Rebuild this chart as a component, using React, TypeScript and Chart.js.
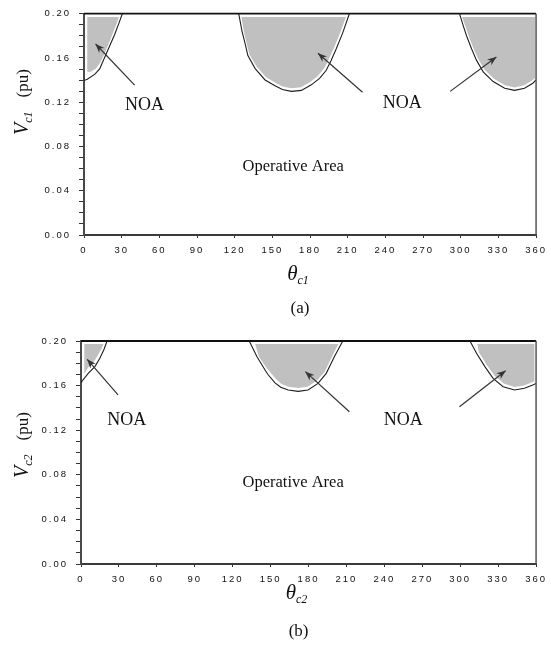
import React, { useEffect, useRef } from "react";
import { Chart, registerables } from "chart.js";

Chart.register(...registerables);

type Pt = [number, number];

// Axis ticks: firing angle θ (deg) and series voltage V (pu)
const thetaTickLabels = ["0", "30", "60", "90", "120", "150", "180", "210", "240", "270", "300", "330", "360"];
const vTickLabels = ["0.00", "0.04", "0.08", "0.12", "0.16", "0.20"];
const vMinorStep = 0.01;

// Panel (a): boundaries of the non-operative areas (θc1, Vc1)
const aLeftEdge: Pt[] = [[0, 0.1396], [2.6, 0.1407], [8.7, 0.1454], [12.6, 0.1504], [15.2, 0.1572], [20.5, 0.1711], [24.5, 0.1814], [27.9, 0.1917], [30.5, 0.2]];
const aMidEdge: Pt[] = [[123.2, 0.2], [125.8, 0.1843], [128.4, 0.1726], [130.5, 0.1622], [136.3, 0.1504], [144.2, 0.1401], [152.1, 0.1348], [158, 0.1315], [165.2, 0.1298], [173.1, 0.1307], [181.0, 0.1357], [187.6, 0.1416], [192.9, 0.1489], [196.8, 0.1578], [200.8, 0.1681], [206.1, 0.1829], [211.3, 0.2]];
const aRightEdge: Pt[] = [[299.0, 0.2], [302.1, 0.1888], [304.7, 0.1799], [308.7, 0.1681], [312.6, 0.1578], [317.9, 0.1475], [325.8, 0.1387], [335.0, 0.1327], [342.9, 0.1307], [350.8, 0.1327], [357.4, 0.1372], [360, 0.1401]];

// Panel (a): shaded interiors of the non-operative areas
const aLeftShade: Pt[] = [[2.6, 0.197], [2.6, 0.147], [5.5, 0.1475], [9.5, 0.1505], [13, 0.156], [16, 0.163], [19.5, 0.1725], [23, 0.1825], [26, 0.191], [27.8, 0.197]];
const aMidShade: Pt[] = [[125.3, 0.197], [127.3, 0.184], [129.6, 0.1726], [131.8, 0.163], [137.3, 0.1525], [144.8, 0.1428], [152.4, 0.1375], [158, 0.1343], [165.2, 0.1326], [172.8, 0.1335], [180.2, 0.1383], [186.4, 0.144], [191.4, 0.151], [195.2, 0.1595], [199.2, 0.1695], [204.4, 0.184], [208.6, 0.197]];
const aRightShade: Pt[] = [[301, 0.197], [303.7, 0.1888], [306.2, 0.18], [310.1, 0.1688], [313.9, 0.159], [318.9, 0.1495], [326.4, 0.1412], [335.2, 0.1353], [342.9, 0.1334], [350.5, 0.1353], [356.6, 0.1394], [359.3, 0.142], [359.3, 0.197]];

// Panel (a): annotations (tail, head) and label anchors in data units
const aArrows: [Pt, Pt][] = [[[40.3, 0.1354], [9.2, 0.1726]], [[221.8, 0.129], [186.3, 0.1643]], [[291.6, 0.1298], [328.4, 0.1608]]];
const aNoaLabels: Pt[] = [[48.2, 0.117], [253.4, 0.1195]];
const aOperativeLabel: Pt = [166.6, 0.062];

// Panel (b): boundaries of the non-operative areas (θc2, Vc2)
const bLeftEdge: Pt[] = [[0, 0.163], [0.5, 0.1635], [5.7, 0.171], [11.0, 0.177], [14.9, 0.1845], [18.0, 0.1919], [20.6, 0.2]];
const bMidEdge: Pt[] = [[133.1, 0.2], [139.1, 0.186], [145.6, 0.174], [148.2, 0.1695], [153.5, 0.1625], [158, 0.1585], [163.9, 0.156], [171.8, 0.1548], [179.6, 0.156], [187.5, 0.162], [194.0, 0.171], [200.5, 0.186], [207.1, 0.2]];
const bRightEdge: Pt[] = [[307.7, 0.2], [312.9, 0.189], [319.5, 0.177], [326.0, 0.1665], [333.9, 0.159], [343.0, 0.156], [350.8, 0.1576], [357.4, 0.1605], [360, 0.162]];

// Panel (b): shaded interiors
const bLeftShade: Pt[] = [[2.6, 0.1973], [2.6, 0.1705], [5.8, 0.1765], [10.2, 0.1815], [13.5, 0.1875], [16.4, 0.1935], [17.8, 0.1973]];
const bMidShade: Pt[] = [[137.8, 0.1973], [140.6, 0.186], [147, 0.1755], [154.6, 0.1655], [158.6, 0.1615], [164.2, 0.159], [171.8, 0.1578], [179.2, 0.159], [186.8, 0.1645], [192.8, 0.1725], [198.8, 0.1865], [203.6, 0.1973]];
const bRightShade: Pt[] = [[313.5, 0.1973], [314.8, 0.19], [320.8, 0.179], [327.0, 0.169], [334.4, 0.1618], [343.0, 0.1588], [350.5, 0.1602], [356.5, 0.1628], [358.7, 0.164], [358.7, 0.1973]];

// Panel (b): annotations
const bArrows: [Pt, Pt][] = [[[29.3, 0.1516], [4.9, 0.1836]], [[212.3, 0.1366], [177.5, 0.1725]], [[299.4, 0.1411], [335.9, 0.1734]]];
const bNoaLabels: Pt[] = [[36.1, 0.129], [254.9, 0.129]];
const bOperativeLabel: Pt = [167.8, 0.0726];

const SERIF = "'Liberation Serif', 'Times New Roman', serif";
const SANS = "'Liberation Sans', Arial, sans-serif";
const W = 551;

type Run = { text: string; font: string; dy?: number; gap?: number };

function runsWidth(ctx: CanvasRenderingContext2D, runs: Run[]) {
  let w = 0;
  for (const r of runs) {
    ctx.font = r.font;
    w += ctx.measureText(r.text).width + (r.gap || 0);
  }
  return w;
}

function drawRuns(ctx: CanvasRenderingContext2D, runs: Run[], x: number, y: number) {
  let cx = x;
  for (const r of runs) {
    ctx.font = r.font;
    ctx.fillText(r.text, cx, y + (r.dy || 0));
    cx += ctx.measureText(r.text).width + (r.gap || 0);
  }
}

function drawArrow(ctx: CanvasRenderingContext2D, x1: number, y1: number, x2: number, y2: number) {
  ctx.beginPath();
  ctx.moveTo(x1, y1);
  ctx.lineTo(x2, y2);
  ctx.stroke();
  const a = Math.atan2(y2 - y1, x2 - x1);
  const c = Math.cos(a), s = Math.sin(a);
  const L = 9, H = 3.6;
  ctx.beginPath();
  ctx.moveTo(x2, y2);
  ctx.lineTo(x2 - L * c + H * s, y2 - L * s - H * c);
  ctx.lineTo(x2 - L * 0.7 * c, y2 - L * 0.7 * s);
  ctx.lineTo(x2 - L * c - H * s, y2 - L * s + H * c);
  ctx.closePath();
  ctx.fill();
}

const overlayPlugin = {
  id: "overlay",
  beforeDraw(chart: any) {
    chart.ctx.letterSpacing = "2px";
  },
  afterDatasetsDraw(chart: any, _args: any, o: any) {
    const { ctx, chartArea: ca, scales } = chart;
    const px = (p: Pt) => [scales.x.getPixelForValue(p[0]), scales.y.getPixelForValue(p[1])];
    ctx.save();
    ctx.letterSpacing = "0px";
    // frame: top and right edges
    ctx.lineWidth = 1.8;
    ctx.strokeStyle = "#111";
    ctx.beginPath();
    ctx.moveTo(ca.left, ca.top);
    ctx.lineTo(ca.right, ca.top);
    ctx.stroke();
    ctx.lineWidth = 1.5;
    ctx.strokeStyle = "#555";
    ctx.beginPath();
    ctx.moveTo(ca.right, ca.top);
    ctx.lineTo(ca.right, ca.bottom);
    ctx.stroke();
    // arrows
    ctx.strokeStyle = "#333";
    ctx.fillStyle = "#333";
    ctx.lineWidth = 1.2;
    for (const [t, h] of o.arrows as [Pt, Pt][]) {
      const [x1, y1] = px(t);
      const [x2, y2] = px(h);
      drawArrow(ctx, x1, y1, x2, y2);
    }
    // labels
    ctx.fillStyle = "#111";
    ctx.textAlign = "center";
    ctx.textBaseline = "middle";
    ctx.font = `18px ${SERIF}`;
    for (const p of o.noa as Pt[]) {
      const [x, y] = px(p);
      ctx.fillText("NOA", x, y);
    }
    ctx.font = `16.5px ${SERIF}`;
    const [ox, oy] = px(o.operative);
    ctx.fillText("Operative Area", ox, oy);
    ctx.restore();
  },
  afterDraw(chart: any, _args: any, o: any) {
    const { ctx, chartArea: ca } = chart;
    ctx.save();
    ctx.letterSpacing = "0px";
    ctx.fillStyle = "#111";
    ctx.textAlign = "left";
    ctx.textBaseline = "alphabetic";
    // x-axis title θc
    const xRuns: Run[] = [
      { text: "θ", font: `italic 21px ${SERIF}` },
      { text: o.sub, font: `italic 12px ${SERIF}`, dy: 4 },
    ];
    const cx = (ca.left + ca.right) / 2 - 12;
    drawRuns(ctx, xRuns, cx - runsWidth(ctx, xRuns) / 2, o.xTitleY);
    // caption
    const cRuns: Run[] = [{ text: o.caption, font: `17px ${SERIF}` }];
    drawRuns(ctx, cRuns, cx - runsWidth(ctx, cRuns) / 2 + 2, o.captionY);
    // y-axis title Vc (pu)
    const yRuns: Run[] = [
      { text: "V", font: `italic 20px ${SERIF}` },
      { text: o.sub, font: `italic 12px ${SERIF}`, dy: 4, gap: 14 },
      { text: "(pu)", font: `17px ${SERIF}` },
    ];
    ctx.translate(o.yTitleX, o.yTitleY);
    ctx.rotate(-Math.PI / 2);
    drawRuns(ctx, yRuns, -runsWidth(ctx, yRuns) / 2, 0);
    ctx.restore();
  },
};

type PanelProps = {
  top: number;
  height: number;
  plotLeft: number;
  plotTop: number;
  plotBottom: number;
  plotRight: number;
  edges: Pt[][];
  shades: Pt[][];
  arrows: [Pt, Pt][];
  noa: Pt[];
  operative: Pt;
  sub: string;
  caption: string;
  xTitleY: number;
  captionY: number;
  yTitleX: number;
  yTitleY: number;
};

function Panel(p: PanelProps) {
  const ref = useRef<HTMLCanvasElement>(null);
  useEffect(() => {
    const toXY = (pts: Pt[]) => pts.map(([x, y]) => ({ x, y }));
    const shadeSets = p.shades.map((pts) => ({
      data: toXY([...pts, pts[0]]),
      showLine: true,
      fill: "shape",
      backgroundColor: "#c0c0c0",
      borderColor: "rgba(0,0,0,0)",
      borderWidth: 0,
      pointRadius: 0,
      order: 2,
    }));
    const edgeSets = p.edges.map((pts) => ({
      data: toXY(pts),
      showLine: true,
      fill: false,
      borderColor: "#1e1e1e",
      borderWidth: 1.1,
      pointRadius: 0,
      order: 1,
    }));
    const chart = new Chart(ref.current as HTMLCanvasElement, {
      type: "scatter",
      data: { datasets: [...edgeSets, ...shadeSets] as any },
      options: {
        responsive: false,
        animation: false,
        events: [],
        layout: { padding: { left: 0, top: p.plotTop, right: W - p.plotRight, bottom: 0 } },
        plugins: {
          legend: { display: false },
          tooltip: { enabled: false },
          overlay: {
            arrows: p.arrows,
            noa: p.noa,
            operative: p.operative,
            sub: p.sub,
            caption: p.caption,
            xTitleY: p.xTitleY,
            captionY: p.captionY,
            yTitleX: p.yTitleX,
            yTitleY: p.yTitleY,
          },
        } as any,
        scales: {
          x: {
            type: "linear",
            min: Number(thetaTickLabels[0]),
            max: Number(thetaTickLabels[thetaTickLabels.length - 1]),
            border: { display: true, color: "#3a3a3a", width: 2 },
            grid: { display: true, drawOnChartArea: false, drawTicks: true, tickLength: 3, color: "#333", lineWidth: 1 },
            ticks: {
              stepSize: Number(thetaTickLabels[1]) - Number(thetaTickLabels[0]),
              autoSkip: false,
              maxRotation: 0,
              padding: 7,
              color: "#111",
              font: { family: SANS, size: 9.5 },
              callback: (v: any) => {
                const s = String(Math.round(Number(v)));
                return thetaTickLabels.includes(s) ? s : "";
              },
            },
            afterFit: (scale: any) => {
              scale.height = p.height - p.plotBottom;
            },
          },
          y: {
            type: "linear",
            min: Number(vTickLabels[0]),
            max: Number(vTickLabels[vTickLabels.length - 1]),
            border: { display: true, color: "#4a4a4a", width: 2 },
            grid: { display: true, drawOnChartArea: false, drawTicks: true, tickLength: 5, color: "#333", lineWidth: 1 },
            ticks: {
              stepSize: vMinorStep,
              autoSkip: false,
              padding: 8,
              color: "#111",
              font: { family: SANS, size: 9.5 },
              callback: (v: any) => {
                const s = Number(v).toFixed(2);
                return vTickLabels.includes(s) ? s : "";
              },
            },
            afterFit: (scale: any) => {
              scale.width = p.plotLeft;
            },
          },
        },
      } as any,
      plugins: [overlayPlugin as any],
    });
    return () => chart.destroy();
  }, []);
  return (
    <canvas
      ref={ref}
      width={W}
      height={p.height}
      style={{ position: "absolute", left: 0, top: p.top, width: W, height: p.height }}
    />
  );
}

export default function App() {
  return (
    <div style={{ position: "absolute", left: 0, top: 0, width: W, height: 648, background: "#fff" }}>
      <Panel
        top={0}
        height={322}
        plotLeft={84}
        plotTop={9}
        plotBottom={235}
        plotRight={540}
        edges={[aLeftEdge, aMidEdge, aRightEdge]}
        shades={[aLeftShade, aMidShade, aRightShade]}
        arrows={aArrows}
        noa={aNoaLabels}
        operative={aOperativeLabel}
        sub="c1"
        caption="(a)"
        xTitleY={280}
        captionY={313}
        yTitleX={28}
        yTitleY={102}
      />
      <Panel
        top={322}
        height={326}
        plotLeft={81}
        plotTop={19}
        plotBottom={242}
        plotRight={540}
        edges={[bLeftEdge, bMidEdge, bRightEdge]}
        shades={[bLeftShade, bMidShade, bRightShade]}
        arrows={bArrows}
        noa={bNoaLabels}
        operative={bOperativeLabel}
        sub="c2"
        caption="(b)"
        xTitleY={277}
        captionY={314}
        yTitleX={28}
        yTitleY={123}
      />
    </div>
  );
}
